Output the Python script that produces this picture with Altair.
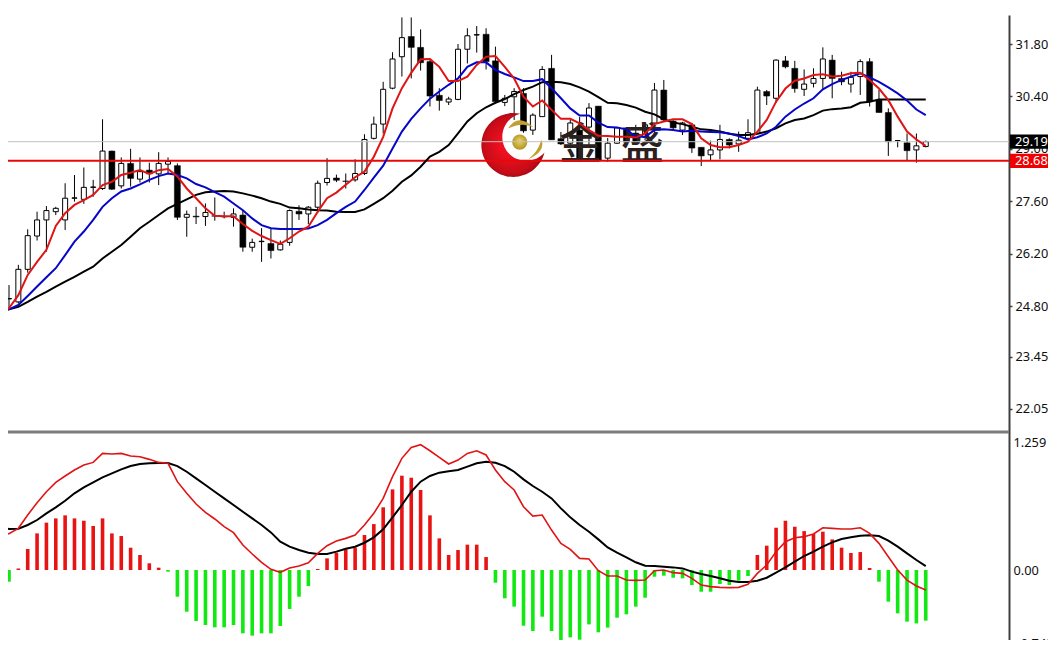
import altair as alt
import pandas as pd

open_ = [24.74,24.99,24.91,25.78,26.67,27.10,27.32,27.10,27.68,27.65,
         27.97,27.94,28.94,28.01,28.61,28.19,28.43,28.33,28.59,28.55,
         27.17,27.20,27.19,27.21,27.19,27.17,27.23,26.37,26.52,26.47,
         26.30,26.50,27.33,27.26,27.44,28.10,28.22,28.14,28.17,28.34,
         29.28,29.66,30.62,31.46,32.00,31.71,31.33,30.43,30.25,30.32,
         31.66,32.04,32.06,31.35,30.24,30.39,30.48,29.50,29.86,31.15,
         29.27,29.15,29.50,29.58,30.14,28.75,29.15,29.56,29.42,29.31,
         29.69,30.57,29.74,29.50,29.64,29.04,28.84,28.97,29.25,29.13,
         29.28,29.41,30.53,30.35,31.35,31.15,30.59,30.75,30.88,31.37,
         30.88,30.73,30.93,31.33,30.30,29.97,29.22,29.16,28.97,29.06]
close = [24.91,25.00,25.78,26.68,27.10,27.35,27.41,27.68,27.69,27.97,
         27.98,28.94,27.92,28.61,28.21,28.39,28.33,28.61,28.66,27.17,
         27.25,27.18,27.30,27.20,27.18,27.26,26.37,26.50,26.53,26.28,
         26.45,27.35,27.26,27.44,28.08,28.21,28.16,28.13,28.34,29.25,
         29.66,30.59,31.40,31.97,31.71,31.30,30.41,30.29,30.33,31.66,
         32.02,32.05,31.33,30.26,30.35,30.53,29.48,29.90,31.12,29.24,
         29.13,29.69,28.70,30.09,28.70,29.15,29.56,29.18,29.15,29.64,
         30.57,29.77,29.56,29.69,29.02,28.81,28.97,29.25,29.10,29.23,
         29.43,30.57,30.41,31.37,31.19,30.61,30.73,30.88,31.40,30.88,
         30.79,30.91,31.33,30.26,29.97,29.19,29.22,28.95,29.08,29.19]
high = [24.94,25.36,25.90,26.85,27.32,27.47,27.45,28.08,28.30,28.50,
        28.17,29.79,28.95,28.77,29.00,28.77,28.63,28.91,28.77,28.61,
        27.35,27.45,27.54,27.70,27.32,27.41,27.36,26.60,26.88,26.88,
        26.55,27.38,27.49,27.47,28.15,28.75,28.31,28.34,28.72,29.39,
        29.86,30.79,31.58,32.51,32.51,32.19,31.37,30.62,30.39,31.80,
        32.22,32.28,32.22,31.73,30.44,30.62,30.62,29.95,31.21,31.51,
        29.45,29.77,29.85,30.22,30.14,29.29,29.58,29.58,29.64,29.69,
        30.76,30.84,29.77,29.72,29.69,29.04,29.22,29.64,29.28,29.46,
        29.79,30.66,30.57,31.39,31.48,31.35,31.12,31.15,31.71,31.51,
        31.06,31.06,31.39,31.42,30.57,30.08,29.22,29.41,29.41,29.22]
low = [24.69,24.74,24.87,25.69,26.55,26.25,27.23,26.83,27.59,27.53,
       27.72,27.90,27.90,27.94,27.99,28.10,28.10,28.03,28.34,27.10,
       26.65,26.99,26.94,27.08,27.14,26.92,26.25,26.25,25.98,26.07,
       26.28,26.41,27.10,26.99,27.28,28.02,28.11,27.94,28.12,28.30,
       29.25,29.41,30.59,30.93,30.88,31.09,30.13,30.02,30.17,30.30,
       31.28,31.57,31.12,30.22,30.14,29.77,29.43,29.37,29.86,29.24,
       29.10,29.10,28.65,29.10,28.65,28.65,29.13,29.13,29.10,29.23,
       29.45,29.72,29.48,29.37,28.89,28.54,28.70,28.72,29.01,28.92,
       29.23,29.40,30.17,30.23,31.15,30.50,30.41,30.64,30.59,30.35,
       30.70,30.50,30.44,30.13,29.97,28.81,29.04,28.70,28.63,29.04]

ma_fast = [24.65,24.74,25.09,25.63,25.98,26.30,26.94,27.28,27.50,27.63,
           27.77,28.03,28.12,28.30,28.36,28.43,28.33,28.43,28.46,28.26,
           27.94,27.68,27.41,27.21,27.20,27.20,26.99,26.81,26.67,26.56,
           26.46,26.61,26.79,26.92,27.32,27.68,27.83,28.04,28.24,28.39,
           28.79,29.32,30.08,30.62,31.03,31.39,31.40,31.19,30.81,30.81,
           30.93,31.24,31.46,31.48,31.19,30.88,30.39,30.13,30.29,30.04,
           29.80,29.80,29.68,29.50,29.35,29.34,29.32,29.32,29.30,29.41,
           29.66,29.73,29.79,29.79,29.66,29.28,29.10,29.04,29.04,29.10,
           29.19,29.46,29.77,30.26,30.61,30.82,30.88,30.97,30.99,30.93,
           30.95,31.02,31.03,30.84,30.61,30.30,29.86,29.46,29.25,29.08]
ma_mid = [24.69,24.71,24.83,25.07,25.32,25.57,25.81,26.16,26.52,26.79,
          27.10,27.45,27.68,27.86,27.94,28.05,28.17,28.27,28.34,28.30,
          28.21,28.06,27.97,27.84,27.72,27.54,27.36,27.14,26.96,26.88,
          26.86,26.86,26.86,26.87,26.96,27.10,27.28,27.45,27.59,27.90,
          28.23,28.55,29.01,29.46,29.80,30.08,30.34,30.53,30.71,30.88,
          31.19,31.31,31.31,31.11,31.00,30.91,30.81,30.81,30.86,30.62,
          30.35,30.08,29.89,29.89,29.70,29.58,29.57,29.52,29.32,29.32,
          29.50,29.52,29.50,29.46,29.48,29.46,29.45,29.44,29.41,29.34,
          29.25,29.31,29.41,29.59,29.86,30.05,30.21,30.35,30.59,30.73,
          30.84,30.93,31.02,30.91,30.79,30.64,30.48,30.29,30.05,29.90]
ma_slow = [24.69,24.71,24.78,24.91,25.05,25.18,25.32,25.45,25.58,25.72,
           25.85,26.07,26.25,26.43,26.65,26.88,27.05,27.23,27.41,27.53,
           27.65,27.77,27.84,27.86,27.87,27.86,27.81,27.75,27.68,27.59,
           27.53,27.43,27.41,27.38,27.36,27.35,27.32,27.31,27.31,27.38,
           27.53,27.68,27.88,28.12,28.29,28.52,28.79,28.92,29.10,29.41,
           29.73,29.95,30.11,30.23,30.33,30.46,30.57,30.66,30.78,30.79,
           30.78,30.73,30.64,30.53,30.38,30.23,30.22,30.17,30.10,29.99,
           29.92,29.79,29.70,29.66,29.59,29.52,29.50,29.46,29.40,29.37,
           29.37,29.40,29.46,29.55,29.68,29.77,29.81,29.90,30.02,30.06,
           30.08,30.11,30.23,30.26,30.32,30.32,30.32,30.32,30.32,30.32]

histogram = [-0.148,-0.115,0.015,0.207,0.361,0.467,0.509,0.539,0.509,0.486,
             0.434,0.509,0.361,0.335,0.220,0.148,0.066,0.023,-0.016,-0.263,
             -0.411,-0.503,-0.542,-0.565,-0.565,-0.542,-0.624,-0.647,-0.624,-0.624,
             -0.552,-0.384,-0.263,-0.158,0.010,0.115,0.171,0.204,0.220,0.345,
             0.453,0.618,0.795,0.930,0.910,0.789,0.539,0.312,0.148,0.197,
             0.250,0.250,0.128,-0.125,-0.279,-0.361,-0.549,-0.601,-0.460,-0.601,
             -0.697,-0.664,-0.687,-0.536,-0.614,-0.568,-0.470,-0.437,-0.361,-0.273,
             -0.066,-0.056,-0.076,-0.082,-0.148,-0.214,-0.214,-0.138,-0.148,-0.105,
             -0.059,0.148,0.240,0.417,0.486,0.427,0.384,0.355,0.378,0.302,
             0.220,0.168,0.177,0.020,-0.115,-0.312,-0.427,-0.509,-0.526,-0.499]
macd_line = [0.355,0.358,0.411,0.542,0.664,0.772,0.864,0.927,0.986,1.035,
             1.061,1.150,1.144,1.150,1.124,1.117,1.091,1.061,1.052,0.871,
             0.756,0.651,0.568,0.503,0.427,0.368,0.246,0.158,0.076,0.007,
             -0.023,0.020,0.039,0.072,0.164,0.240,0.286,0.312,0.345,0.444,
             0.559,0.706,0.920,1.101,1.209,1.236,1.176,1.111,1.045,1.084,
             1.150,1.176,1.134,0.986,0.871,0.789,0.624,0.532,0.542,0.394,
             0.263,0.204,0.115,0.108,-0.007,-0.059,-0.059,-0.099,-0.102,-0.099,
             -0.007,0.000,-0.026,-0.033,-0.082,-0.148,-0.164,-0.171,-0.174,-0.171,
             -0.141,-0.033,0.049,0.181,0.279,0.319,0.329,0.355,0.417,0.411,
             0.404,0.404,0.417,0.361,0.263,0.131,0.000,-0.099,-0.158,-0.197]
signal_line = [0.421,0.404,0.407,0.444,0.493,0.559,0.618,0.683,0.756,0.815,
               0.864,0.914,0.953,0.992,1.025,1.045,1.052,1.055,1.055,1.025,
               0.969,0.904,0.838,0.772,0.706,0.641,0.575,0.509,0.444,0.371,
               0.279,0.230,0.197,0.171,0.158,0.158,0.181,0.210,0.230,0.269,
               0.322,0.401,0.519,0.641,0.772,0.871,0.927,0.960,0.973,0.986,
               1.019,1.052,1.068,1.058,1.025,0.969,0.894,0.828,0.772,0.706,
               0.608,0.519,0.444,0.378,0.302,0.223,0.171,0.125,0.076,0.043,
               0.039,0.033,0.026,0.016,-0.016,-0.039,-0.059,-0.082,-0.105,-0.118,
               -0.118,-0.105,-0.076,-0.026,0.026,0.082,0.138,0.181,0.230,0.273,
               0.306,0.322,0.338,0.342,0.335,0.289,0.230,0.164,0.099,0.039]

price_ticks = [31.80, 30.40, 29.00, 27.60, 26.20, 24.80, 23.45, 22.05]
macd_ticks = [1.259, 0.0, -0.742]
bid_price = 29.19
line_price = 28.68

# watermark anchors (bar position, price): crescent, ball, right leaf, top leaf
logo_x = [54.9, 55.6, 57.4, 55.7]
logo_y = [29.10, 29.18, 28.98, 29.66]
brand_chars = ["金", "盛"]
brand_x = [62.1, 68.7]
brand_y = [29.07, 29.07]

for arr in (open_, close, high, low, ma_fast, ma_mid, ma_slow, histogram, macd_line, signal_line):
    assert len(arr) == 100, len(arr)

bars = pd.DataFrame({"i": range(100), "open": open_, "close": close, "high": high, "low": low,
                     "fast": ma_fast, "mid": ma_mid, "slow": ma_slow,
                     "hist": histogram, "macd": macd_line, "signal": signal_line, "zero": [0.0] * 100})
up = bars[bars["close"] >= bars["open"]]
down = bars[bars["close"] < bars["open"]]

X_SCALE = alt.Scale(domain=[0.893, 107.9], nice=False, zero=False, padding=0)
PRICE_DOMAIN = [15.69, 32.575]
MACD_DOMAIN = [-0.759, 5.472]
FONT = "Noto Sans"
LABEL = 12.8

x = alt.X("i:Q", scale=X_SCALE, axis=None)
lx = alt.X("x:Q", scale=X_SCALE, axis=None)
def py(f, axis=None):
    return alt.Y(f, type="quantitative", scale=alt.Scale(domain=PRICE_DOMAIN, nice=False, zero=False), axis=axis, title=None)
def my(f, axis=None):
    return alt.Y(f, type="quantitative", scale=alt.Scale(domain=MACD_DOMAIN, nice=False, zero=False), axis=axis, title=None)

price_axis = alt.Axis(orient="right", values=price_ticks, format=".2f", grid=False, domainColor="#404040",
                      domainWidth=2, tickColor="#404040", tickWidth=1.5, tickSize=3, labelPadding=3,
                      labelFont=FONT, labelFontSize=LABEL, labelColor="#101010", title=None)
macd_axis = alt.Axis(orient="right", values=macd_ticks, grid=False, domain=False,
                     ticks=False, labelPadding=4, labelFont=FONT, labelFontSize=LABEL, labelColor="#101010",
                     labelOffset={"condition": {"test": "datum.value < -0.5", "value": -2}, "value": 0},
                     labelOverlap=False, labelExpr="datum.value == 0 ? '0.00' : format(datum.value, '.3f')", title=None)

wicks = alt.Chart(bars).mark_rule(color="black", strokeWidth=1, clip=True).encode(
    x=x, y=py("high", price_axis), y2="low")
up_bodies = alt.Chart(up).mark_bar(size=5, fill="white", stroke="black", strokeWidth=1, clip=True).encode(
    x=x, y=py("open"), y2="close")
down_bodies = alt.Chart(down).mark_bar(size=6, fill="black", stroke="black", strokeWidth=0.5, clip=True).encode(
    x=x, y=py("open"), y2="close")

crescent = "M0.216 -0.98 A1 1 0 1 0 0.976 0.236 A0.75 0.75 0 1 1 0.216 -0.98 Z"
gold_top = "M-1 0.35 Q-0.2 -0.9 1 0.25 Q0.1 -0.2 -1 0.35 Z"
gold_right = "M0.5 -1 Q0.95 0.2 -0.85 1 Q0.1 0.3 0.5 -1 Z"
red_grad = alt.Gradient(gradient="radial", x1=0.45, y1=0.5, x2=0.5, y2=0.5, r1=0.15, r2=0.62,
                        stops=[alt.GradientStop(offset=0, color="#ee1020"), alt.GradientStop(offset=0.6, color="#c80c18"),
                               alt.GradientStop(offset=1, color="#7a0810")])
gold_grad = alt.Gradient(gradient="radial", x1=0.5, y1=0.4, x2=0.5, y2=0.5, r1=0.05, r2=0.6,
                         stops=[alt.GradientStop(offset=0, color="#e8cf58"), alt.GradientStop(offset=1, color="#a88a20")])
logo = pd.DataFrame({"x": logo_x, "y": logo_y})
logo_red = alt.Chart(logo.iloc[[0]]).mark_point(shape=crescent, size=4096, filled=True, fill=red_grad, opacity=1).encode(x=lx, y=py("y"))
logo_ball = alt.Chart(logo.iloc[[1]]).mark_point(shape="circle", size=230, filled=True, fill=gold_grad, opacity=1).encode(x=lx, y=py("y"))
logo_right = alt.Chart(logo.iloc[[2]]).mark_point(shape=gold_right, size=380, filled=True, fill="#c0a030", opacity=1).encode(x=lx, y=py("y"))
logo_top = alt.Chart(logo.iloc[[3]]).mark_point(shape=gold_top, size=640, filled=True, fill="#c0a030", opacity=1).encode(x=lx, y=py("y"))
brand = alt.Chart(pd.DataFrame({"x": brand_x, "y": brand_y, "t": brand_chars})).mark_text(
    font="Noto Sans CJK SC", fontSize=43, fontWeight=500, color="#2a2020", baseline="middle").encode(
    x=lx, y=py("y"), text="t:N")

bid_rule = alt.Chart(pd.DataFrame({"p": [bid_price]})).mark_rule(color="#c0c0c0", strokeWidth=1).encode(y=py("p"))
price_rule = alt.Chart(pd.DataFrame({"p": [line_price]})).mark_rule(color="#e80808", strokeWidth=2).encode(y=py("p"))
fast = alt.Chart(bars).mark_line(color="#e01414", strokeWidth=2, clip=True).encode(x=x, y=py("fast"))
mid = alt.Chart(bars).mark_line(color="#0606c8", strokeWidth=2, clip=True).encode(x=x, y=py("mid"))
slow = alt.Chart(bars).mark_line(color="black", strokeWidth=2, clip=True).encode(x=x, y=py("slow"))

tags = pd.DataFrame({"p": [bid_price, line_price], "t": ["29.19", "28.68"], "hi": [bid_price + 0.19, line_price + 0.19],
                     "lo": [bid_price - 0.19, line_price - 0.19]})
tag1 = alt.Chart(tags.iloc[[0]]).mark_rect(color="black").encode(x=alt.value(1002), x2=alt.value(1040), y=py("hi"), y2="lo")
tag2 = alt.Chart(tags.iloc[[1]]).mark_rect(color="#f00000").encode(x=alt.value(1002), x2=alt.value(1040), y=py("hi"), y2="lo")
tag_text = alt.Chart(tags).mark_text(font=FONT, fontSize=LABEL, color="white", align="left", baseline="middle").encode(
    x=alt.value(1007), y=py("p"), text="t:N")

hist_up = alt.Chart(bars[bars["hist"] >= 0]).mark_bar(size=3.6, color="#e81414", clip=True).encode(
    x=x, y=my("hist", macd_axis), y2="zero")
hist_down = alt.Chart(bars[bars["hist"] < 0]).mark_bar(size=3.6, color="#12e812", clip=True).encode(
    x=x, y=my("hist"), y2="zero")
macd_l = alt.Chart(bars).mark_line(color="#e01414", strokeWidth=1.6, clip=True).encode(x=x, y=my("macd"))
signal_l = alt.Chart(bars).mark_line(color="black", strokeWidth=2, clip=True).encode(x=x, y=my("signal"))
separator = alt.Chart(pd.DataFrame({"p": [1]})).mark_rule(color="#7c7c7c", strokeWidth=3).encode(y=alt.value(417))
# the window of the reference ends at this height: everything under it is blank
bottom_mask = alt.Chart(pd.DataFrame({"p": [1]})).mark_rect(color="white").encode(
    x=alt.value(-8), x2=alt.value(1040), y=alt.value(625), y2=alt.value(640))

chart = alt.layer(wicks, up_bodies, down_bodies, logo_red, logo_ball, logo_right, logo_top, brand,
                  bid_rule, price_rule, slow, mid, fast, tag1, tag2, tag_text,
                  hist_up, hist_down, signal_l, macd_l, separator, bottom_mask
).resolve_scale(y="independent").properties(
    width=1001, height=632,
    padding={"left": 0, "top": 7, "right": 39, "bottom": 0},
    autosize=alt.AutoSizeParams(type="none", contains="content"),
    background="white",
).configure_view(strokeWidth=0)

chart.save("out.html", embed_options={"renderer": "svg", "actions": False})
